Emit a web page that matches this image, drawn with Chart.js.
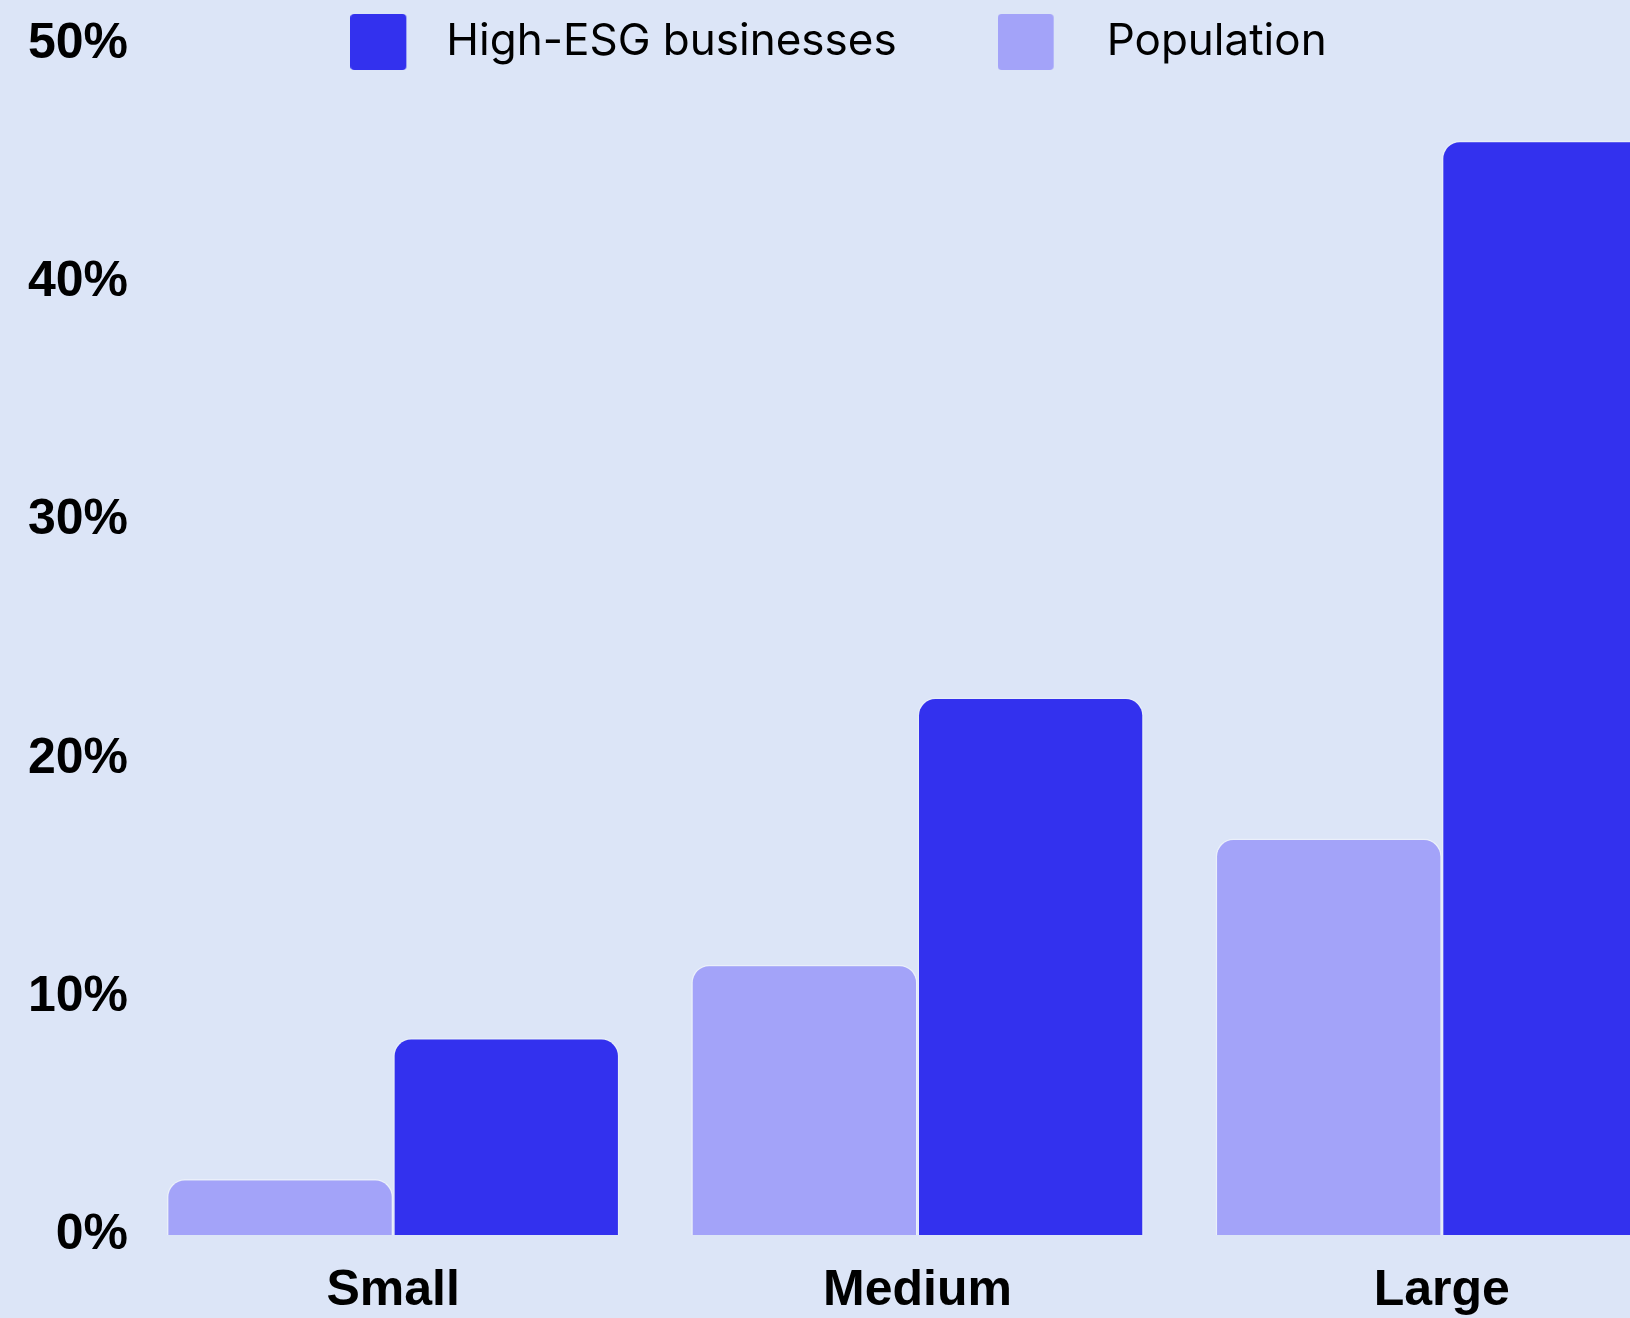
<!DOCTYPE html>
<html><head><meta charset="utf-8">
<script src="https://cdn.jsdelivr.net/npm/chart.js@4.4.1/dist/chart.umd.min.js"></script>
<style>
html,body{margin:0;padding:0;background:#dce5f7;overflow:hidden;width:1630px;height:1318px}
#wrap{position:absolute;left:0;top:0;width:1704px;height:1347px}
</style></head><body>
<div id="wrap"><canvas id="c" width="1704" height="1347"></canvas></div>
<script>
const categories = ['Small', 'Medium', 'Large'];
const populationValues = [2.35, 11.35, 16.65];
const highEsgValues = [8.27, 22.57, 45.96];
const yTickValues = [0, 10, 20, 30, 40, 50];
const seriesNames = ['Population', 'High-ESG businesses'];

const colorHigh = '#3331ee';
const colorPop = '#a3a3f9';

function swatch(color, w) {
  const c = document.createElement('canvas');
  c.width = w; c.height = 56;
  const x = c.getContext('2d');
  x.fillStyle = color;
  x.beginPath();
  x.roundRect(0, 0, 56, 56, 4);
  x.fill();
  return c;
}
const swatches = { 0: swatch(colorPop, 127), 1: swatch(colorHigh, 101) };

const legendNoClip = {
  id: 'legendNoClip',
  afterUpdate(chart) {
    const lg = chart.legend;
    if (lg && typeof lg._draw === 'function') {
      lg.draw = function () { if (this.options.display) this._draw(); };
    }
  }
};

const tickFont = { family: "'Liberation Sans', Arial, sans-serif", size: 50, weight: 'bold' };

new Chart(document.getElementById('c'), {
  type: 'bar',
  plugins: [legendNoClip],
  data: {
    labels: categories,
    datasets: [
      { label: seriesNames[0], data: populationValues, backgroundColor: colorPop,
        borderColor: 'rgba(255,255,255,0.4)', borderWidth: 1.5, borderRadius: 18 },
      { label: seriesNames[1], data: highEsgValues, backgroundColor: colorHigh,
        borderColor: 'rgba(255,255,255,0.3)', borderWidth: 1.5, borderRadius: 18 }
    ]
  },
  options: {
    responsive: false,
    animation: false,
    devicePixelRatio: 1,
    layout: { padding: { top: -121, left: 0, right: 0, bottom: 0 } },
    datasets: { bar: { categoryPercentage: 0.863, barPercentage: 1 } },
    plugins: {
      tooltip: { enabled: false },
      legend: {
        position: 'top',
        align: 'center',
        maxHeight: 165.5,
        labels: {
          usePointStyle: true,
          pointStyleWidth: 47,
          padding: 141,
          color: '#000',
          font: { family: "Inter, 'Noto Sans', sans-serif", size: 44, weight: '400' },
          sort: (a, b) => b.datasetIndex - a.datasetIndex,
          generateLabels(chart) {
            const items = Chart.defaults.plugins.legend.labels.generateLabels(chart);
            items.forEach(it => { it.pointStyle = swatches[it.datasetIndex]; });
            return items;
          }
        }
      }
    },
    scales: {
      x: {
        grid: { display: false, drawTicks: false },
        border: { display: false },
        ticks: { color: '#000', font: tickFont, padding: 26 }
      },
      y: {
        min: 0, max: 50,
        grid: { display: false, drawTicks: false },
        border: { display: false },
        afterFit(scale) { scale.width = 131; },
        afterBuildTicks(scale) { scale.ticks = yTickValues.map(v => ({ value: v })); },
        ticks: { color: '#000', font: tickFont, padding: 3, callback: v => v + '%' }
      }
    }
  }
});
</script>
</body></html>
